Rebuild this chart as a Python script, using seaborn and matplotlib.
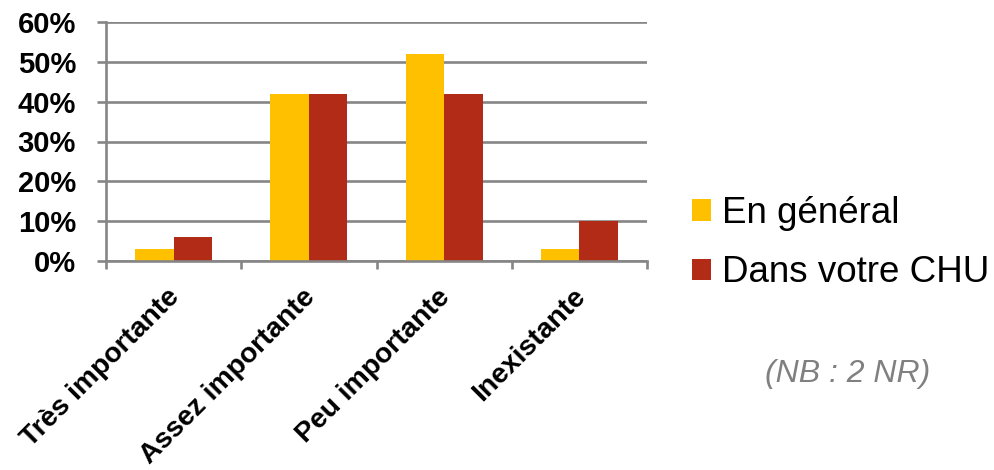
import matplotlib
matplotlib.use("Agg")
import matplotlib.pyplot as plt
import matplotlib.transforms as mtransforms
from matplotlib.patches import Patch
from matplotlib.ticker import FixedLocator, FuncFormatter
import seaborn as sns
import pandas as pd

# ---- data ----
categories = ["Très importante", "Assez importante", "Peu importante", "Inexistante"]
series_names = ["En général", "Dans votre CHU"]
en_general = [3, 42, 52, 3]
dans_chu = [6, 42, 42, 10]
y_ticks = [0, 10, 20, 30, 40, 50, 60]
note_text = "(NB : 2 NR)"

colors = ["#FFC000", "#B22B17"]
grid_color = "#868686"

df = pd.DataFrame({
    "categorie": categories * 2,
    "serie": [series_names[0]] * len(categories) + [series_names[1]] * len(categories),
    "valeur": en_general + dans_chu,
})

sns.set_theme(style="white")
plt.rcParams["font.family"] = ["Liberation Sans", "DejaVu Sans"]
plt.rcParams["text.color"] = "black"

W, H = 994, 470
fig = plt.figure(figsize=(W / 100, H / 100), dpi=100)
ax = fig.add_axes([106 / W, 1 - 261 / H, 541 / W, 239 / H])

sns.barplot(data=df, x="categorie", y="valeur", hue="serie", order=categories,
            hue_order=series_names, palette=colors, width=0.57, linewidth=0,
            saturation=1, errorbar=None, ax=ax, legend=False)

ax.set_xlim(-0.5, len(categories) - 0.5)
ax.set_ylim(0, 60)
ax.set_xlabel("")
ax.set_ylabel("")

# grid
ax.set_axisbelow(True)
ax.yaxis.grid(True, color=grid_color, linewidth=1.9)
ax.xaxis.grid(False)
for s in ["top", "right"]:
    ax.spines[s].set_visible(False)
for s in ["left", "bottom"]:
    ax.spines[s].set_color(grid_color)
    ax.spines[s].set_linewidth(1.9)

# y ticks
ax.set_yticks(y_ticks)
ax.yaxis.set_major_formatter(FuncFormatter(lambda v, p: f"{int(v)}%"))
ax.tick_params(axis="y", which="major", length=6.5, width=1.9, color=grid_color,
               pad=15, labelsize=21, direction="out", left=True)
for lab in ax.get_yticklabels():
    lab.set_fontweight("bold")
    lab.set_color("black")

# x ticks: labels at centres, tick marks at boundaries
ax.set_xticks(range(len(categories)))
ax.set_xticklabels(categories, rotation=45, ha="right", va="center",
                   rotation_mode="anchor", fontsize=20.3, fontweight="bold", color="black")
ax.tick_params(axis="x", which="major", length=0, pad=23)
ax.xaxis.set_minor_locator(FixedLocator([i - 0.5 for i in range(len(categories) + 1)]))
ax.tick_params(axis="x", which="minor", length=6, width=1.9, color=grid_color,
               direction="out", bottom=True)
offset = mtransforms.ScaledTranslation(2 / 100, 0, fig.dpi_scale_trans)
for lab in ax.get_xticklabels():
    lab.set_transform(lab.get_transform() + offset)

# legend
handles = [Patch(facecolor=c, edgecolor="none") for c in colors]
fig.legend(handles, series_names, loc="upper left",
           bbox_to_anchor=(692 / W, 1 - 196 / H), frameon=False,
           fontsize=26.5, borderpad=0, borderaxespad=0,
           handlelength=0.52, handleheight=0.52, handletextpad=0.3,
           labelspacing=0.66, labelcolor="black")

# note
fig.text(848 / W, 1 - 374 / H, note_text, ha="center", va="center",
         fontsize=23, style="italic", color="#808080")

fig.savefig("out.png", dpi=100)
